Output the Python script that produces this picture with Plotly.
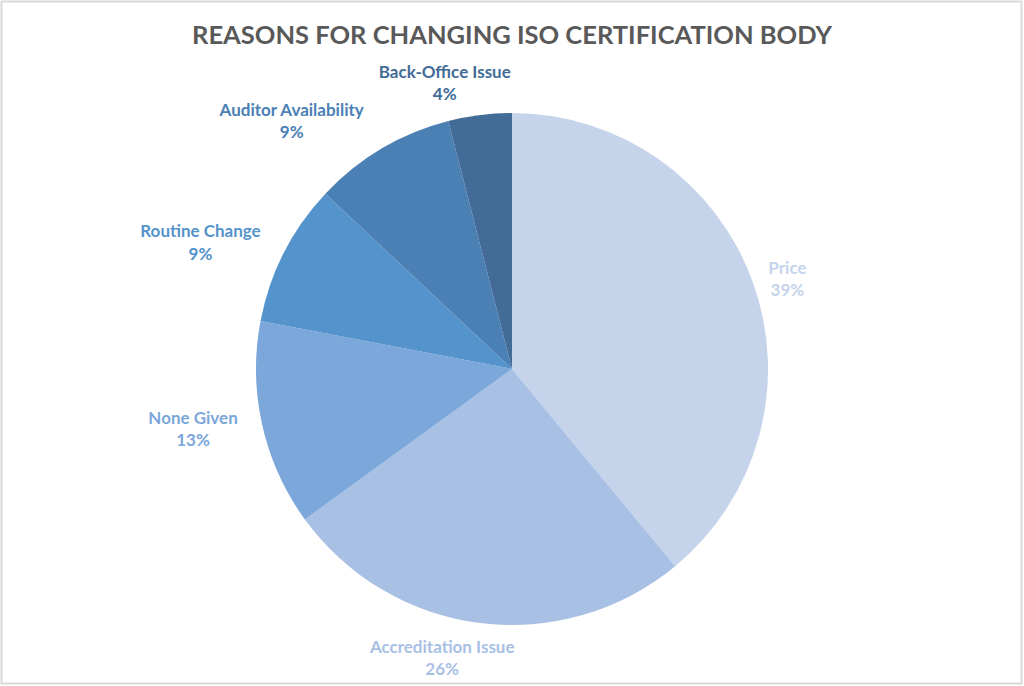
import plotly.graph_objects as go

categories = ["Price", "Accreditation Issue", "None Given", "Routine Change",
              "Auditor Availability", "Back-Office Issue"]
values = [39, 26, 13, 9, 9, 4]
colors = ["#C5D4EA", "#A7C0E4", "#7BA7DA", "#5593CC", "#4B80B5", "#426B98"]

W, H = 1024, 686
CX, CY, R = 512, 369, 256   # pie centre / radius in px


def dom(r, dx=0):
    return dict(x=[(CX + dx - r) / W, (CX + dx + r) / W],
                y=[1 - (CY + r) / H, 1 - (CY - r) / H])


def label_ring(show, r, dx=0):
    """Transparent copy of the pie that only carries outside labels."""
    return go.Pie(
        labels=categories, values=values, sort=False, direction="clockwise", rotation=0,
        marker=dict(colors=["rgba(0,0,0,0)"] * len(values), line=dict(width=0)),
        textposition=["outside" if c in show else "none" for c in categories],
        texttemplate="<b>%{label}</b><br><b>%{value}%</b>",
        outsidetextfont=dict(family="Lato", size=17, color=colors),
        hoverinfo="skip", domain=dom(r, dx), showlegend=False,
    )


fig = go.Figure()
fig.add_trace(label_ring({"None Given", "Routine Change", "Auditor Availability"}, 270))
fig.add_trace(label_ring({"Price"}, 261))
fig.add_trace(label_ring({"Back-Office Issue"}, 267, dx=43))
fig.add_trace(label_ring({"Accreditation Issue"}, 269, dx=47))
# visible pie
fig.add_trace(go.Pie(
    labels=categories, values=values, sort=False, direction="clockwise", rotation=0,
    marker=dict(colors=colors, line=dict(width=0)),
    textinfo="none", hoverinfo="label+value",
    domain=dom(R), showlegend=False,
))

fig.update_layout(
    width=W, height=H,
    margin=dict(l=0, r=0, t=0, b=0),
    paper_bgcolor="white",
    title=dict(text="<b>REASONS FOR CHANGING ISO CERTIFICATION BODY</b>",
               x=0.5, xanchor="center", y=1 - 35 / H, yanchor="middle",
               font=dict(family="Lato", size=25.5, color="#595959")),
    shapes=[dict(type="rect", xref="paper", yref="paper",
                 x0=1.5 / W, x1=1021.5 / W, y0=1 - 683.5 / H, y1=1 - 1.5 / H,
                 line=dict(color="#D9D9D9", width=2))],
)

fig.write_html("out.html", config={"displayModeBar": False},
               post_script="document.body.style.margin='0px';")
